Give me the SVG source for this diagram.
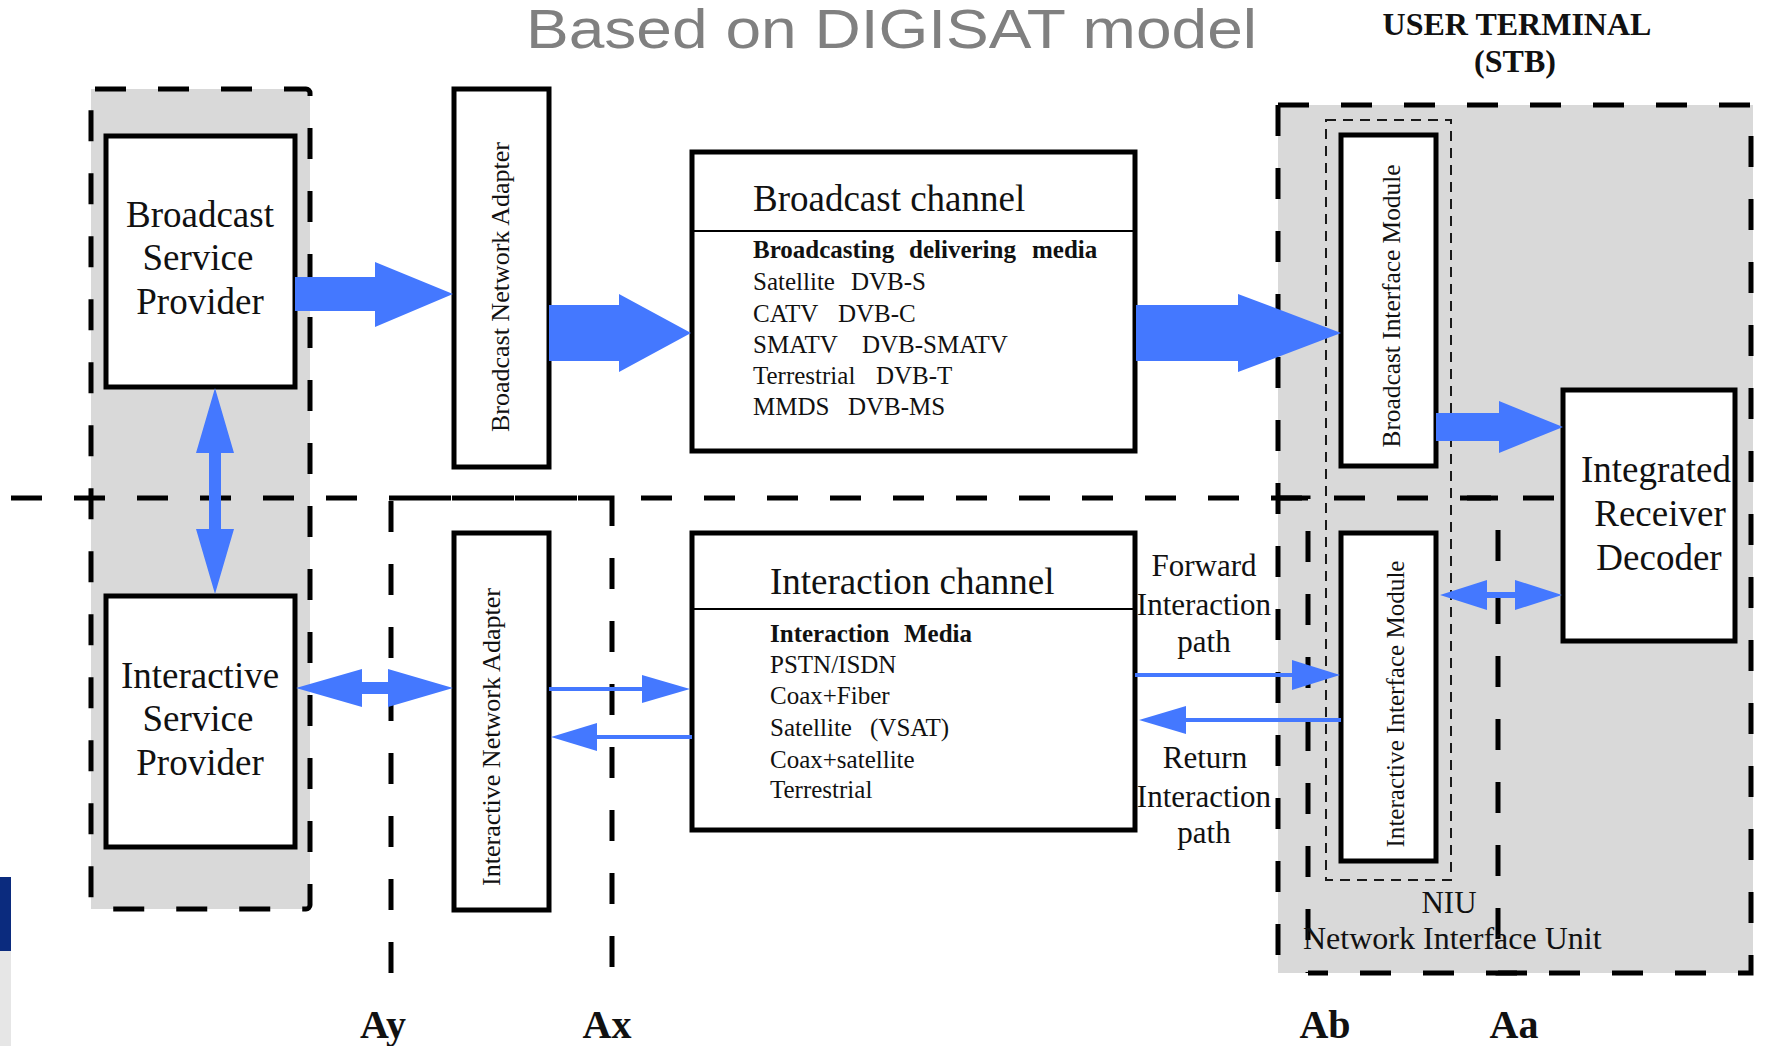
<svg xmlns="http://www.w3.org/2000/svg" width="1767" height="1046" viewBox="0 0 1767 1046">
  <style>
    .shade{fill:#d9d9d9}
    .dash{fill:none;stroke:#000;stroke-width:5;stroke-dasharray:31 32}
    .fine{fill:none;stroke:#1a1a1a;stroke-width:2;stroke-dasharray:10 7}
    .box{fill:#fff;stroke:#000;stroke-width:5}
    .rule{stroke:#000;stroke-width:2}
    .fat{fill:#4478ff}
    .wire{stroke:#4478ff;stroke-width:4;fill:none}
    .s{font-family:"Liberation Serif","Times New Roman",serif;fill:#111}
    .big{font-size:37px}
    .med{font-size:31px}
    .small{font-size:25px}
    .rot{font-size:25px}
    .b{font-weight:bold}
    .mid{text-anchor:middle}
  </style>

  <!-- page corner decoration -->
  <rect x="0" y="877" width="11" height="74" fill="#0b2b7e"/>
  <rect x="0" y="951" width="11" height="95" fill="#e6e6e6"/>

  <!-- heading -->
  <text x="526" y="48" font-family="Liberation Sans, Arial, sans-serif" font-size="55" fill="#808080" textLength="731" lengthAdjust="spacingAndGlyphs">Based on DIGISAT model</text>
  <text class="s b mid" x="1517" y="35" font-size="32">USER TERMINAL</text>
  <text class="s b mid" x="1515" y="72" font-size="32">(STB)</text>

  <!-- service provider zone -->
  <g id="provider-zone">
    <rect class="shade" x="91" y="89" width="219" height="820"/>
    <rect class="dash" x="91" y="89" width="219" height="820" rx="4"/>
  </g>

  <!-- user terminal zone -->
  <g id="terminal-zone">
    <rect class="shade" x="1278" y="105" width="475" height="868"/>
    <path class="dash" d="M1278,105 H1751 V973 H1308 M1278,105 V973"/>
    <rect class="fine" x="1326" y="120" width="125" height="760"/>
  </g>

  <!-- reference points and boundary -->
  <g id="reference-lines">
    <path class="dash" d="M11,498 H1563"/>
    <path class="dash" d="M391,973 V498 H612 V973"/>
    <path class="dash" d="M1278,498 H1308 V973"/>
    <path class="dash" d="M1467,498 H1498 V973 H1530"/>
  </g>

  <g id="broadcast-service-provider">
    <rect class="box" x="106" y="136" width="189" height="251"/>
    <text class="s big mid" x="200" y="227">Broadcast</text>
    <text class="s big mid" x="198" y="270">Service</text>
    <text class="s big mid" x="200" y="314">Provider</text>
  </g>

  <g id="interactive-service-provider">
    <rect class="box" x="106" y="596" width="189" height="251"/>
    <text class="s big mid" x="200" y="688">Interactive</text>
    <text class="s big mid" x="198" y="731">Service</text>
    <text class="s big mid" x="200" y="775">Provider</text>
  </g>

  <g id="broadcast-network-adapter">
    <rect class="box" x="454" y="89" width="95" height="378"/>
    <text class="s rot mid" transform="translate(509,287) rotate(-90)" textLength="290" lengthAdjust="spacingAndGlyphs">Broadcast Network Adapter</text>
  </g>

  <g id="interactive-network-adapter">
    <rect class="box" x="454" y="533" width="95" height="377"/>
    <text class="s rot mid" transform="translate(500,737) rotate(-90)" textLength="298" lengthAdjust="spacingAndGlyphs">Interactive Network Adapter</text>
  </g>

  <g id="broadcast-channel">
    <rect class="box" x="692" y="152" width="443" height="299"/>
    <line class="rule" x1="694" y1="231" x2="1133" y2="231"/>
    <text class="s big" x="753" y="211">Broadcast channel</text>
    <text class="s small b" y="258"><tspan x="753">Broadcasting</tspan><tspan x="909">delivering</tspan><tspan x="1032">media</tspan></text>
    <text class="s small" y="290"><tspan x="753">Satellite</tspan><tspan x="851">DVB-S</tspan></text>
    <text class="s small" y="322"><tspan x="753">CATV</tspan><tspan x="838">DVB-C</tspan></text>
    <text class="s small" y="353"><tspan x="753">SMATV</tspan><tspan x="862">DVB-SMATV</tspan></text>
    <text class="s small" y="384"><tspan x="753">Terrestrial</tspan><tspan x="876">DVB-T</tspan></text>
    <text class="s small" y="415"><tspan x="753">MMDS</tspan><tspan x="848">DVB-MS</tspan></text>
  </g>

  <g id="interaction-channel">
    <rect class="box" x="692" y="533" width="443" height="297"/>
    <line class="rule" x1="694" y1="609" x2="1133" y2="609"/>
    <text class="s big" x="770" y="594">Interaction channel</text>
    <text class="s small b" y="642"><tspan x="770">Interaction</tspan><tspan x="904">Media</tspan></text>
    <text class="s small" x="770" y="673">PSTN/ISDN</text>
    <text class="s small" x="770" y="704">Coax+Fiber</text>
    <text class="s small" y="736"><tspan x="770">Satellite</tspan><tspan x="870">(VSAT)</tspan></text>
    <text class="s small" x="770" y="768">Coax+satellite</text>
    <text class="s small" x="770" y="798">Terrestrial</text>
  </g>

  <g id="broadcast-interface-module">
    <rect class="box" x="1341" y="135" width="95" height="331"/>
    <text class="s rot mid" transform="translate(1400,306) rotate(-90)" textLength="283" lengthAdjust="spacingAndGlyphs">Broadcast Interface Module</text>
  </g>

  <g id="interactive-interface-module">
    <rect class="box" x="1341" y="533" width="95" height="328"/>
    <text class="s rot mid" transform="translate(1404,704) rotate(-90)" textLength="287" lengthAdjust="spacingAndGlyphs">Interactive Interface Module</text>
  </g>

  <g id="integrated-receiver-decoder">
    <rect class="box" x="1563" y="390" width="172" height="251"/>
    <text class="s big mid" x="1656" y="482">Integrated</text>
    <text class="s big mid" x="1660" y="526">Receiver</text>
    <text class="s big mid" x="1659" y="570">Decoder</text>
  </g>

  <g id="connectors">
    <!-- broadcast path -->
    <polygon class="fat" points="295,277 375,277 375,262 453,294 375,327 375,311 295,311"/>
    <polygon class="fat" points="549,305 619,305 619,294 691,333 619,372 619,361 549,361"/>
    <polygon class="fat" points="1136,305 1238,305 1238,294 1341,333 1238,372 1238,361 1136,361"/>
    <polygon class="fat" points="1436,413 1499,413 1499,401 1563,427 1499,453 1499,441 1436,441"/>
    <!-- provider link -->
    <polygon class="fat" points="215,388 234,453 221,453 221,529 234,529 215,594 196,529 209,529 209,453 196,453"/>
    <!-- interactive path -->
    <polygon class="fat" points="296,688 362,669 362,682 388,682 388,669 453,688 388,707 388,694 362,694 362,707"/>
    <line class="wire" x1="549" y1="689" x2="645" y2="689"/>
    <polygon class="fat" points="642,675 690,689 642,703"/>
    <line class="wire" x1="594" y1="737" x2="692" y2="737"/>
    <polygon class="fat" points="551,737 597,723 597,751"/>
    <line class="wire" x1="1135" y1="675" x2="1295" y2="675"/>
    <polygon class="fat" points="1292,660 1340,675 1292,690"/>
    <line class="wire" x1="1183" y1="720" x2="1341" y2="720"/>
    <polygon class="fat" points="1139,720 1186,706 1186,734"/>
    <polygon class="fat" points="1440,595 1487,580 1487,592 1515,592 1515,580 1562,595 1515,610 1515,598 1487,598 1487,610"/>
  </g>

  <!-- path labels -->
  <g id="path-labels">
    <text class="s med mid" x="1204" y="576">Forward</text>
    <text class="s med mid" x="1204" y="615">Interaction</text>
    <text class="s med mid" x="1204" y="652">path</text>
    <text class="s med mid" x="1205" y="768">Return</text>
    <text class="s med mid" x="1204" y="807">Interaction</text>
    <text class="s med mid" x="1204" y="843">path</text>
    <text class="s med mid" x="1449" y="913">NIU</text>
    <text class="s" x="1303" y="949" font-size="32">Network Interface Unit</text>
  </g>

  <!-- reference point names -->
  <g id="reference-names">
    <text class="s b mid" x="383" y="1038" font-size="40">Ay</text>
    <text class="s b mid" x="607" y="1038" font-size="40">Ax</text>
    <text class="s b mid" x="1325" y="1038" font-size="40">Ab</text>
    <text class="s b mid" x="1514" y="1038" font-size="40">Aa</text>
  </g>
</svg>
